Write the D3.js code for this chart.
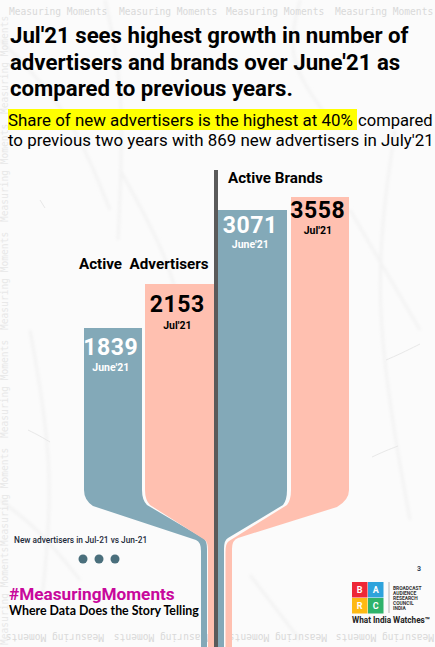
<!DOCTYPE html>
<meta charset="utf-8">
<style>
html, body { margin: 0; padding: 0; background: #fff; }
svg { display: block; }
text { font-family: Roboto, sans-serif; }
.mono { font-family: "DejaVu Sans Mono", monospace; fill: #d9d9d9; font-size: 9.6px; }
.side { fill: #e8e8e8; }
</style>
<body>
<svg class="chart js-chart"></svg>

<script src="https://d3js.org/d3.v7.min.js"></script>
<script type="text/javascript">
"use strict";

var categories = ["Active  Advertisers", "Active Brands"];
var periods = ["June'21", "Jul'21"];
var advertisers = [1839, 2153];
var brands = [3071, 3558];
var barValues = advertisers.concat(brands);

var titleLines = ["Jul'21 sees highest growth in number of", "advertisers and brands over June'21 as", "compared to previous years."];
var subLines = ["Share of new advertisers is the highest at 40%", "compared", "to previous two years with 869 new advertisers in July'21"];
var logoLines = ["BROADCAST", "AUDIENCE", "RESEARCH", "COUNCIL", "INDIA"];
var logoCells = ["B", "A", "R", "C"];

var width = 435, height = 647;
var blue = "#83a9b8", salmon = "#ffc0b0", grey = "#5a5a5a";

var svg = d3.select('.js-chart').attr('width', width).attr('height', height);

svg.append("rect").attr("width", width).attr("height", height).attr("fill", "#fbfbfb");

// paper creases
svg.append("defs").append("filter").attr("id", "soft")
  .append("feGaussianBlur").attr("stdDeviation", 1.6);
var creases = [
  [[0, 40], [70, 110], [110, 210]], [[105, 0], [125, 90], [118, 240]], [[300, 0], [285, 60], [330, 120]],
  [[395, 130], [370, 300], [410, 520]], [[30, 330], [55, 470], [42, 600]], [[120, 170], [170, 260], [185, 330]],
  [[250, 575], [300, 640]], [[350, 210], [420, 330]], [[0, 500], [40, 530], [80, 580]]
];
svg.append("g").attr("filter", "url(#soft)").selectAll("path").data(creases).enter().append("path")
  .attr("d", d3.line().curve(d3.curveBasis))
  .attr("fill", "none").attr("stroke", "#f3f3f3").attr("stroke-width", 3);
var nicks = [[[386, 360], [400, 354], [420, 344]], [[372, 457], [385, 451], [398, 446]], [[40, 200], [45, 208]], [[28, 430], [40, 436], [50, 442]]];
svg.append("g").selectAll("path").data(nicks).enter().append("path")
  .attr("d", d3.line().curve(d3.curveBasis))
  .attr("fill", "none").attr("stroke", "#e8e8e8").attr("stroke-width", 1);

// watermark rows
[9, 119, 226, 335].forEach(function (x) {
  svg.append("text").attr("class", "mono").attr("x", x).attr("y", 15).text("Measuring Moments");
});
[10, 118, 233, 340].forEach(function (x) {
  svg.append("text").attr("class", "mono")
    .attr("transform", "translate(" + (x + 94) + ",634) rotate(180)").text("Measuring Moments");
});
[114, 222, 330, 438, 546, 645].forEach(function (y) {
  svg.append("text").attr("class", "mono side")
    .attr("transform", "translate(8," + y + ") rotate(-90)").text("Measuring Moments");
});

// bar heights in the source are not proportional, so the value scale is piecewise
var y = d3.scaleLinear().domain(barValues).range([328, 284, 210, 197]);
var left = d3.scaleOrdinal().domain(barValues).range([84, 145, 218, 291]);
var right = d3.scaleOrdinal().domain(barValues).range([142, 214, 287, 349]);

// knee = [shoulder x, shoulder y, diagonal end x, diagonal end y, stem x], null for a straight edge
function downEdge(p, x, knee) {
  if (!knee) { p.lineTo(x, height); return; }
  p.lineTo(x, 490);
  p.quadraticCurveTo(x, 500, knee[0], knee[1]);
  p.lineTo(knee[2], knee[3]);
  p.quadraticCurveTo(knee[4], knee[3] + 2, knee[4], knee[3] + 11);
  p.lineTo(knee[4], height);
}
function upEdge(p, x, knee) {
  if (!knee) { p.lineTo(x, height); return; }
  p.lineTo(knee[4], height);
  p.lineTo(knee[4], knee[3] + 11);
  p.quadraticCurveTo(knee[4], knee[3] + 2, knee[2], knee[3]);
  p.lineTo(knee[0], knee[1]);
  p.quadraticCurveTo(x, 500, x, 490);
}
function funnel(d) {
  var p = d3.path(), top = y(d.v);
  p.moveTo(left(d.v), top);
  p.lineTo(right(d.v), top);
  downEdge(p, right(d.v), d.kneeR);
  upEdge(p, left(d.v), d.kneeL);
  p.closePath();
  return p.toString();
}

var marks = [
  { v: advertisers[0], fill: blue, p: periods[0], c: "#fff", dy: [27, 43], kneeL: [93, 506, 196, 540, 201], kneeR: [147, 505, 203, 538, 207] },
  { v: advertisers[1], fill: salmon, p: periods[1], c: "#000", dy: [28, 45], kneeL: [150, 505, 205, 540, 208], kneeR: null },
  { v: brands[0], fill: blue, p: periods[0], c: "#fff", dy: [23, 38], kneeL: null, kneeR: [283, 505, 228, 538, 224] },
  { v: brands[1], fill: salmon, p: periods[1], c: "#000", dy: [21, 37], kneeL: [287, 505, 229, 541, 225.5], kneeR: [337, 507, 238, 538, 232] }
];

svg.append("g").selectAll("path").data(marks).enter().append("path")
  .attr("d", funnel)
  .attr("fill", function (d) { return d.fill; });

svg.append("rect").attr("x", 214).attr("y", 170).attr("width", 4).attr("height", height - 170).attr("fill", grey);

// value labels inside each bar
var lab = svg.append("g").selectAll("g").data(marks).enter().append("g")
  .attr("transform", function (d) { return "translate(" + ((left(d.v) + right(d.v)) / 2 - 2.2) + "," + y(d.v) + ")"; })
  .attr("text-anchor", "middle").attr("fill", function (d) { return d.c; });
lab.append("text").attr("y", function (d) { return d.dy[0]; }).attr("font-size", 23).attr("font-weight", 700).attr("letter-spacing", 0.6)
  .text(function (d) { return d.v; });
lab.append("text").attr("y", function (d) { return d.dy[1]; }).attr("font-size", 10.5).attr("font-weight", 700)
  .text(function (d) { return d.p; });

svg.append("text").attr("x", 79).attr("y", 269).attr("font-size", 15.2).attr("font-weight", 700).style("white-space", "pre").text(categories[0]);
svg.append("text").attr("x", 228).attr("y", 183).attr("font-size", 15.2).attr("font-weight", 700).text(categories[1]);

// title and subtitle
titleLines.forEach(function (t, i) {
  svg.append("text").attr("x", 10).attr("y", 43 + i * 26.5).attr("font-size", 22.2).attr("font-weight", 700).text(t);
});
svg.append("rect").attr("x", 8).attr("y", 109).attr("width", 349).attr("height", 21).attr("fill", "#ffff00");
svg.append("text").attr("x", 8).attr("y", 126).attr("font-size", 16.9).text(subLines[0]);
svg.append("text").attr("x", 358).attr("y", 126).attr("font-size", 16.6).text(subLines[1]);
svg.append("text").attr("x", 8).attr("y", 146).attr("font-size", 16.9).text(subLines[2]);

// footer
svg.append("text").attr("x", 14).attr("y", 543).attr("font-size", 8.3).attr("font-weight", 500).attr("fill", "#1c2a3a").text("New advertisers in Jul-21 vs Jun-21");
[83, 99, 115].forEach(function (cx) {
  svg.append("circle").attr("cx", cx).attr("cy", 559).attr("r", 4.5).attr("fill", "#4a6f7c");
});
svg.append("text").attr("x", 9).attr("y", 600).attr("font-size", 17.2).attr("font-weight", 700).attr("fill", "#c8089c").text("#MeasuringMoments");
svg.append("text").attr("x", 9).attr("y", 615).attr("font-size", 12.4).attr("font-weight", 700).style("font-family", "Lato").attr("fill", "#000").text("Where Data Does the Story Telling");

// page number and logo
svg.append("text").attr("x", 417).attr("y", 571).attr("font-size", 7).attr("font-weight", 700).attr("fill", "#33475b").text("3");
var cellColors = ["#ee2737", "#2ea3dc", "#fdb913", "#2fb36b"];
var cell = svg.append("g").selectAll("g").data(logoCells).enter().append("g")
  .attr("transform", function (d, i) { return "translate(" + (352 + (i % 2) * 16) + "," + (582 + Math.floor(i / 2) * 16) + ")"; });
cell.append("rect").attr("width", 15.5).attr("height", 15.5).attr("fill", function (d, i) { return cellColors[i]; });
cell.append("text").attr("x", 7.7).attr("y", 11).attr("text-anchor", "middle").attr("font-size", 9).attr("font-weight", 700).attr("fill", "#fff").text(function (d) { return d; });
svg.append("rect").attr("x", 388.5).attr("y", 582).attr("width", 1).attr("height", 31).attr("fill", "#b5b5b5");
logoLines.forEach(function (t, i) {
  svg.append("text").attr("x", 393).attr("y", 589.5 + i * 5.2).attr("font-size", 4.9).attr("font-weight", 700).attr("fill", "#333").text(t);
});
svg.append("text").attr("x", 352).attr("y", 623).attr("font-size", 8.2).attr("font-weight", 700).attr("fill", "#222").text("What India Watches\u2122");
</script>
</body>
